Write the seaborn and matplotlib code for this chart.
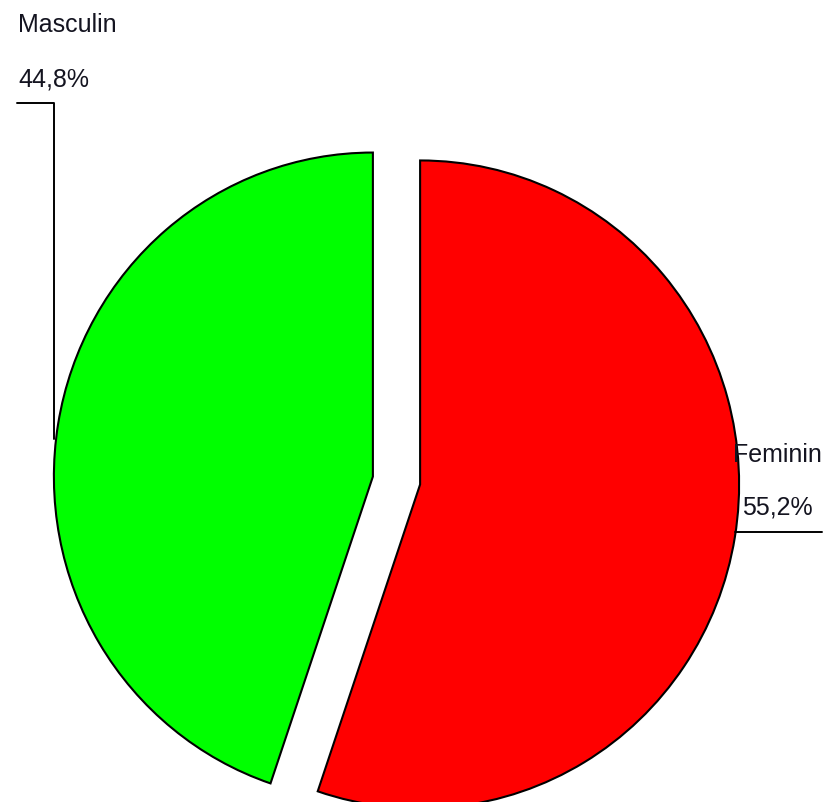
import numpy as np
import matplotlib
matplotlib.use("Agg")
import matplotlib.pyplot as plt
import seaborn as sns

# -----------------------------
# Data
# -----------------------------
labels = ["Feminin", "Masculin"]
shares = [55.2, 44.8]
pct_text = ["55,2%", "44,8%"]
colors = ["#ff0000", "#00ff00"]

sns.set_theme(style="white")
plt.rcParams["font.family"] = ["Liberation Sans", "DejaVu Sans"]

W, H = 828, 803
fig = plt.figure(figsize=(W / 100, H / 100), dpi=100)
ax = fig.add_axes([0, 0, 1, 1])

wedges, _ = ax.pie(
    shares,
    colors=colors,
    startangle=90,
    counterclock=False,
    explode=[0.075, 0.075],
    wedgeprops=dict(edgecolor="black", linewidth=1.5),
)

# pie centre at pixel (396.5, 481.5), radii ~319 x 324 px
cx, cy, rx, ry = 396.5, 481.5, 319, 324
ax.set_aspect("auto")
ax.set_xlim(-cx / rx, (W - cx) / rx)
ax.set_ylim(-(H - cy) / ry, cy / ry)
ax.axis("off")


def px(x, y):
    return x / W, 1 - y / H


txt_color = "#141420"
fs = 18

# Masculin label + leader
fig.text(*px(18, 32), labels[1], fontsize=fs, color=txt_color, va="baseline")
fig.text(*px(18, 86), pct_text[1], fontsize=fs, color=txt_color, va="baseline")
xs, ys = zip(*[px(17, 104), px(54, 104), px(54, 440)])
fig.add_artist(plt.Line2D(xs, ys, color="black", lw=1.4, zorder=0))

# Feminin label + leader
fig.text(*px(733, 462), labels[0], fontsize=fs, color=txt_color, va="baseline")
fig.text(*px(742, 515), pct_text[0], fontsize=fs, color=txt_color, va="baseline")
xs, ys = zip(*[px(735, 533), px(822, 533)])
fig.add_artist(plt.Line2D(xs, ys, color="black", lw=1.4))

fig.savefig("out.png", dpi=100, facecolor="white")
